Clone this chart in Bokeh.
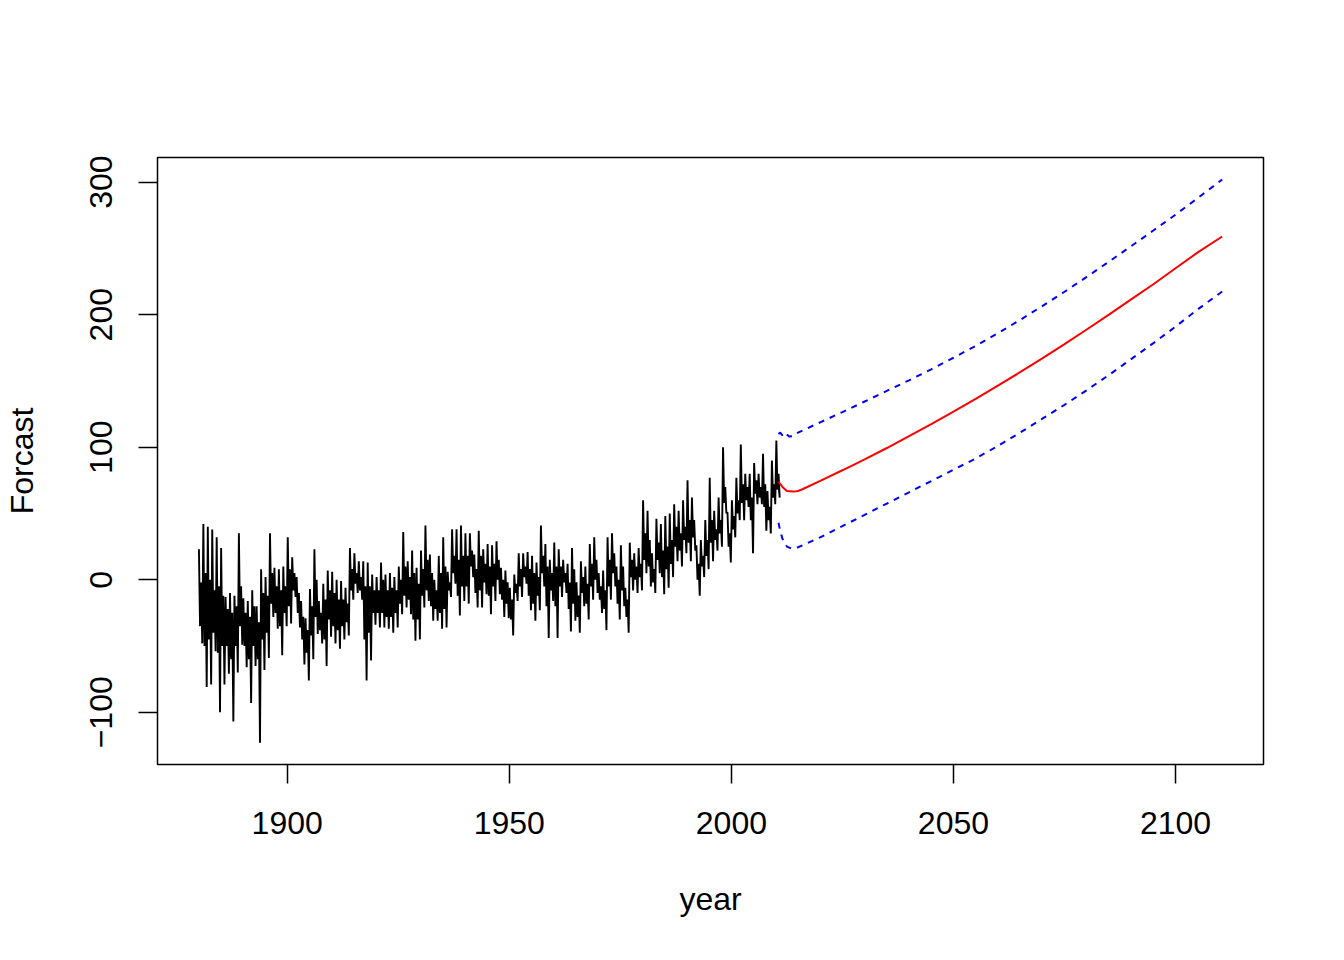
from bokeh.plotting import figure
from bokeh.models import Range1d, FixedTicker
from bokeh.embed import file_html
from bokeh.resources import INLINE

# ---- observed series read from the picture, per year 1880..2010 ----
# extreme monthly high / low of each year
years = list(range(1880, 2011))
year_high = [23, 42, 40, 38, 32, 24, -13, -10, -12, 35,
             -14, -16, -8, -20, 8, 2, 35, 9, 8, 10,
             32, 17, 2, -16, -29, -7, 23, -16, -3, 7,
             6, 0, -1, -6, 24, 20, 14, 14, 13, 4,
             2, 13, 4, 5, 2, 10, 36, 14, 22, 9,
             22, 41, 19, 0, 18, 32, 6, 38, 38, 41,
             35, 35, 19, 37, 23, 27, 26, 29, 9, 7,
             -6, 4, 20, 20, 21, 18, 13, 41, 27, 15,
             28, 23, 15, 12, 24, -2, 14, 10, 27, 32,
             5, 7, 32, 35, 10, 26, -6, 28, 20, 24,
             60, 52, 20, 46, 42, 48, 50, 57, 52, 60,
             75, 62, 26, 30, 45, 77, 52, 62, 100, 51,
             60, 77, 102, 80, 80, 88, 80, 95, 67, 90,
             105]
year_low = [-48, -81, -79, -54, -100, -79, -71, -107, -70, -49,
            -66, -93, -65, -123, -68, -59, -28, -37, -57, -35,
            -33, -13, -36, -64, -76, -60, -41, -48, -65, -43,
            -48, -52, -45, -42, -15, -10, -15, -76, -61, -34,
            -36, -36, -37, -40, -36, -26, -21, -26, -46, -45,
            -21, -16, -31, -31, -37, -36, -13, -3, -27, -16,
            -18, 2, -21, -21, -11, -26, -16, -11, -28, -29,
            -42, -16, -13, -3, -23, -31, -23, -5, -44, -16,
            -44, -13, -10, -39, -31, -40, -20, -30, -15, -10,
            -25, -38, -15, -5, -30, -20, -40, -8, -10, -8,
            5, -5, -10, 5, -11, -6, 2, 14, 10, 20,
            14, 22, -12, 2, 8, 14, 22, 25, 50, 13,
            32, 45, 45, 55, 20, 57, 57, 37, 35, 57,
            62]
# typical (dense-band) high / low of each year
core_high = [-2, 5, 0, -8, -5, -12, -22, -25, -20, -5,
             -25, -28, -20, -32, -10, -12, 5, -5, -8, -5,
             8, 5, -10, -28, -38, -20, 0, -25, -15, -8,
             -10, -15, -15, -18, 8, 5, 2, -5, -5, -8,
             -8, 0, -8, -6, -8, 0, 10, 2, 5, -3,
             8, 15, 5, -8, 5, 10, -2, 18, 15, 18,
             18, 22, 8, 18, 12, 10, 12, 15, 0, -2,
             -15, -3, 8, 10, 8, 5, 2, 18, 10, 5,
             10, 10, 5, -2, 8, -12, 2, -3, 12, 15,
             -5, -8, 15, 20, 0, 10, -15, 15, 10, 12,
             35, 30, 8, 28, 22, 25, 30, 40, 35, 40,
             45, 45, 12, 18, 30, 45, 38, 45, 70, 35,
             48, 60, 72, 70, 62, 75, 70, 72, 55, 72,
             80]
core_low = [-35, -50, -45, -40, -55, -50, -50, -60, -50, -35,
            -50, -60, -50, -60, -45, -40, -18, -25, -35, -25,
            -20, -8, -25, -45, -55, -42, -28, -38, -45, -30,
            -35, -38, -35, -32, -8, -3, -8, -45, -40, -25,
            -25, -25, -28, -28, -25, -18, -12, -15, -30, -30,
            -12, -8, -20, -22, -25, -22, -8, 5, -12, -5,
            -5, 10, -10, -8, -2, -12, -5, 0, -15, -18,
            -30, -10, -5, 2, -12, -18, -12, 5, -20, -8,
            -20, -5, -2, -22, -18, -28, -10, -18, -5, 0,
            -15, -22, -5, 5, -18, -8, -28, 2, 0, 2,
            15, 10, -2, 15, 2, 8, 12, 25, 22, 30,
            28, 32, 0, 10, 18, 28, 30, 35, 58, 25,
            38, 50, 58, 60, 45, 65, 62, 55, 45, 62,
            68]
last_obs_year = 2010.6
last_obs_value = 72

# ---- forecast (red) and interval bounds (blue) ----
fc_year = [2010.6, 2011.5, 2012.5, 2014, 2015, 2016, 2020, 2025, 2030, 2035,
           2040, 2045, 2050, 2055, 2060, 2065, 2070, 2075, 2080, 2085,
           2090, 2095, 2100, 2105, 2110.5]
fc_mean = [74, 70, 67, 66.5, 67, 68.3, 74.6, 82.6, 90.8, 99.4,
           108.3, 117.4, 126.8, 136.4, 146.4, 156.6, 167, 177.8, 188.8, 200,
           211.5, 223, 235, 247, 259]

up_year = [2010.6, 2011, 2011.5, 2012, 2013, 2014, 2015, 2020, 2025, 2030,
           2035, 2040, 2045, 2050, 2055, 2060, 2065, 2070, 2075, 2080,
           2085, 2090, 2095, 2100, 2105, 2110.5]
up_val = [110, 111, 109, 111, 108, 108.5, 111, 118.8, 126.5, 134.5,
          142.5, 150.5, 158.8, 167.5, 176.5, 186, 196, 206.5, 217.3, 228.5,
          240, 251.7, 263.5, 275.5, 288, 302]

lo_year = [2010.6, 2011, 2011.5, 2012.5, 2013.5, 2015, 2020, 2025, 2030, 2035,
           2040, 2045, 2050, 2055, 2060, 2065, 2070, 2075, 2080, 2085,
           2090, 2095, 2100, 2105, 2110.5]
lo_val = [43, 37, 31, 25, 23.5, 24.5, 32, 40.5, 49, 57.5,
          66, 74.5, 83, 91.5, 101, 111, 121.5, 132, 143, 154.5,
          166.5, 178.5, 191, 204, 217.5]

x_ticks = [1900, 1950, 2000, 2050, 2100]
y_ticks = [-100, 0, 100, 200, 300]

# observed line: peak, core low, core high, trough within each year
obs_x, obs_y = [], []
for yr, hi, cl, ch, lo in zip(years, year_high, core_low, core_high, year_low):
    obs_x += [yr + 0.125, yr + 0.375, yr + 0.625, yr + 0.875]
    obs_y += [hi, cl, ch, lo]
obs_x.append(last_obs_year)
obs_y.append(last_obs_value)

FONT = "Liberation Sans"

p = figure(width=1344, height=960, output_backend="svg", toolbar_location=None,
           x_range=Range1d(1870.8, 2119.8), y_range=Range1d(-139.4, 318.6),
           min_border_left=157, min_border_right=81,
           min_border_top=157, min_border_bottom=196,
           background_fill_color="white", border_fill_color="white")
p.grid.visible = False
p.outline_line_color = "black"
p.outline_line_width = 1.5

p.line(obs_x, obs_y, line_color="black", line_width=1.9)
p.line(fc_year, fc_mean, line_color="red", line_width=2)
p.line(up_year, up_val, line_color="blue", line_width=2, line_dash="6 6")
p.line(lo_year, lo_val, line_color="blue", line_width=2, line_dash="6 6")

for ax in (p.xaxis[0], p.yaxis[0]):
    ax.axis_line_color = None
    ax.major_tick_line_color = "black"
    ax.major_tick_line_width = 1.5
    ax.major_tick_out = 19
    ax.major_tick_in = 0
    ax.minor_tick_line_color = None
    ax.major_label_text_font = FONT
    ax.major_label_text_font_size = "32px"
    ax.major_label_text_color = "black"
    ax.axis_label_text_font = FONT
    ax.axis_label_text_font_size = "32px"
    ax.axis_label_text_font_style = "normal"
    ax.axis_label_text_color = "black"

p.xaxis[0].ticker = FixedTicker(ticks=x_ticks)
p.yaxis[0].ticker = FixedTicker(ticks=y_ticks)
p.xaxis[0].major_label_standoff = 28
p.yaxis[0].major_label_standoff = 26
p.yaxis[0].major_label_orientation = "vertical"
p.xaxis[0].axis_label = "year"
p.yaxis[0].axis_label = "Forcast"
p.xaxis[0].axis_label_standoff = 44
p.yaxis[0].axis_label_standoff = 48

open("out.html", "w").write(file_html(p, INLINE))
